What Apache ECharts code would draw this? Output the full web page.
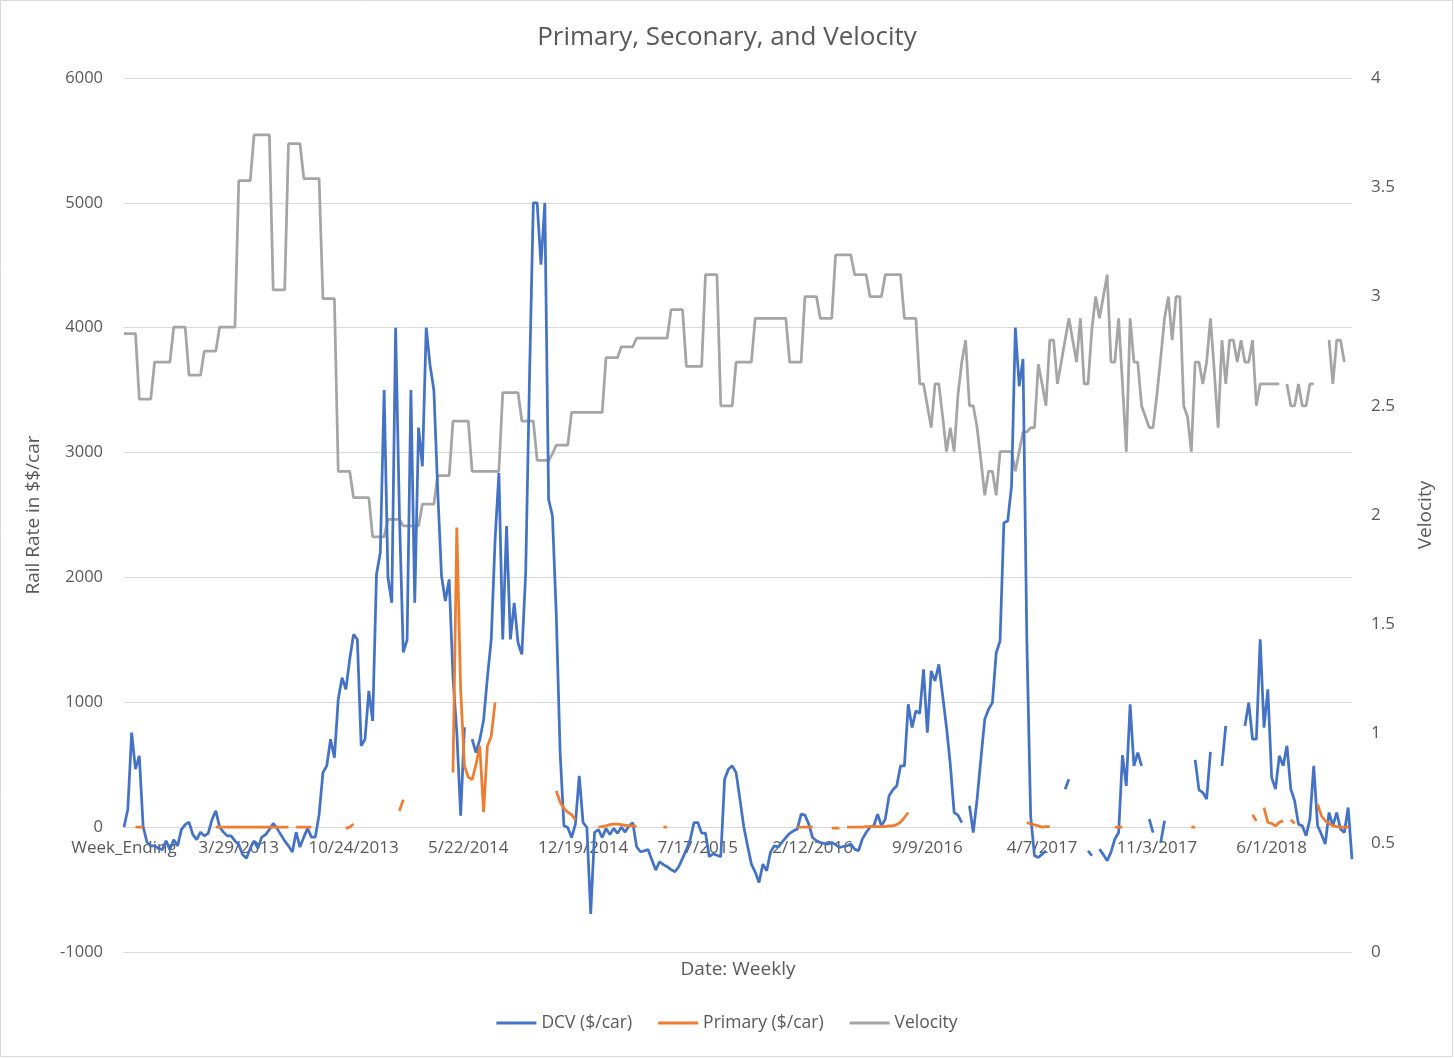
<!DOCTYPE html>
<html>
<head>
<meta charset="utf-8">
<title>Primary, Seconary, and Velocity</title>
<script src="https://cdn.jsdelivr.net/npm/echarts@6/dist/echarts.min.js"></script>
<style>
    html, body { margin: 0; padding: 0; background: #fff; }
    #main { width: 1454px; height: 1058px; }
</style>
</head>
<body>
<div id="main"></div>
<script>
/**
 * Weekly rail rates (DCV, Primary) and velocity
 */

var tickLabels = ['Week_Ending', '3/29/2013', '10/24/2013', '5/22/2014', '12/19/2014', '7/17/2015',
    '2/12/2016', '9/9/2016', '4/7/2017', '11/3/2017', '6/1/2018'];

// DCV ($/car), one value per week
var dcv = [
    0, 144, 757, 464, 571, 5, -120, -150, -150, -170,
    -180, -110, -180, -100, -150, -20, 20, 40, -60, -100,
    -40, -70, -50, 60, 130, 0, -40, -70, -70, -110,
    -140, -220, -250, -170, -110, -170, -80, -60, -20, 30,
    -10, -60, -110, -150, -200, -40, -160, -80, -10, -80,
    -80, 100, 437, 491, 704, 557, 1024, 1197, 1104, 1344,
    1544, 1504, 651, 704, 1091, 851, 2024, 2200, 3500, 2000,
    1797, 4000, 2500, 1400, 1500, 3500, 1797, 3200, 2890, 4000,
    3700, 3500, 2700, 2011, 1811, 1984, 1200, 757, 91, 800,
    null, 704, 597, 700, 859, 1200, 1504, 2300, 2837, 1504,
    2411, 1504, 1797, 1477, 1384, 2037, 3600, 5000, 5000, 4504,
    5000, 2624, 2491, 1700, 600, 11, -3, -83, 24, 411,
    37, -3, -696, -43, -19, -83, -10, -60, -10, -50,
    0, -40, 10, 35, -157, -197, -190, -179, -264, -344,
    -277, -300, -317, -340, -357, -317, -250, -180, -100, 37,
    37, -48, -48, -237, -213, -225, -237, 384, 464, 491,
    437, 224, 5, -149, -296, -360, -443, -296, -349, -200,
    -149, -160, -120, -83, -50, -29, -16, 104, 96, 24,
    -83, -109, -123, -130, -136, -123, -140, -163, -155, -149,
    -136, -176, -189, -96, -43, 0, 11, 104, 11, 64,
    251, 299, 331, 491, 491, 984, 797, 931, 912, 1264,
    757, 1251, 1171, 1304, 1051, 800, 500, 117, 96, 37,
    null, 171, -43, 224, 550, 864, 944, 997, 1397, 1491,
    2437, 2451, 2731, 4000, 3531, 3749, 1500, 91, -229, -243,
    -216, -189, null, null, null, null, 304, 384, null, null,
    null, null, -189, -229, null, -176, -220, -269, -200, -96,
    -43, 576, 331, 984, 491, 597, 491, null, 64, -43,
    null, -123, 51, null, null, null, null, null, null, null,
    539, 299, 277, 224, 603, null, null, 491, 811, null,
    null, null, null, 811, 997, 704, 704, 1504, 797, 1104,
    397, 304, 571, 491, 651, 304, 211, 24, 11, -69,
    64, 491, 11, -56, -136, 117, 11, 117, -16, -43,
    157, -256
];

// Primary ($/car)
var primary = [
    null, null, null, 0, 0, 0, null, null, null, null,
    null, null, null, null, null, null, null, null, null, null,
    null, null, null, null, 0, 0, 0, 0, 0, 0,
    0, 0, 0, 0, 0, 0, 0, 0, 0, 0,
    0, 0, 0, 0, null, 0, 0, 0, 0, 0,
    null, null, null, null, null, null, null, null, -10, 0,
    25, null, null, null, null, null, null, null, null, null,
    null, null, 130, 220, null, null, null, null, null, null,
    null, null, null, null, null, null, 437, 2400, 1100, 490,
    400, 380, 500, 650, 120, 650, 730, 1000, null, null,
    null, null, null, null, null, null, null, null, null, null,
    null, null, null, 290, 200, 150, 120, 100, 60, null,
    null, null, null, null, 0, 5, 10, 20, 25, 25,
    20, 15, 10, 10, 5, null, null, null, null, null,
    null, 0, 0, null, null, null, null, null, null, null,
    null, null, null, null, null, null, null, null, null, null,
    null, null, null, null, null, null, null, null, null, null,
    null, null, null, null, null, null, 0, 0, 0, 0,
    0, null, null, null, null, -8, -8, -8, null, 0,
    0, 0, 0, 0, 5, 5, 5, 5, 5, 5,
    10, 10, 20, 40, 77, 117, null, null, null, null,
    null, null, null, null, null, null, null, null, null, null,
    null, null, null, null, null, null, null, null, null, null,
    null, null, null, null, null, null, 37, 25, 19, 10,
    0, 5, 5, null, null, null, null, null, null, null,
    null, null, null, null, null, null, null, null, null, 0,
    0, 0, null, null, null, null, null, null, null, null,
    null, null, null, null, null, null, null, null, null, 0,
    0, null, null, null, null, null, null, null, null, null,
    null, null, null, null, null, 100, 50, null, 157, 37,
    30, 10, 40, 50, null, 60, 30, null, null, null,
    null, null, 184, 91, 51, 30, 10, 5, 0, 0,
    0, null
];

// Velocity (right axis)
var velocity = [
    2.83, 2.83, 2.83, 2.83, 2.53, 2.53, 2.53, 2.53, 2.70, 2.70,
    2.70, 2.70, 2.70, 2.86, 2.86, 2.86, 2.86, 2.64, 2.64, 2.64,
    2.64, 2.75, 2.75, 2.75, 2.75, 2.86, 2.86, 2.86, 2.86, 2.86,
    3.53, 3.53, 3.53, 3.53, 3.74, 3.74, 3.74, 3.74, 3.74, 3.03,
    3.03, 3.03, 3.03, 3.70, 3.70, 3.70, 3.70, 3.54, 3.54, 3.54,
    3.54, 3.54, 2.99, 2.99, 2.99, 2.99, 2.20, 2.20, 2.20, 2.20,
    2.08, 2.08, 2.08, 2.08, 2.08, 1.90, 1.90, 1.90, 1.90, 1.98,
    1.98, 1.98, 1.98, 1.95, 1.95, 1.95, 1.95, 1.95, 2.05, 2.05,
    2.05, 2.05, 2.18, 2.18, 2.18, 2.18, 2.43, 2.43, 2.43, 2.43,
    2.43, 2.20, 2.20, 2.20, 2.20, 2.20, 2.20, 2.20, 2.20, 2.56,
    2.56, 2.56, 2.56, 2.56, 2.43, 2.43, 2.43, 2.43, 2.25, 2.25,
    2.25, 2.25, 2.28, 2.32, 2.32, 2.32, 2.32, 2.47, 2.47, 2.47,
    2.47, 2.47, 2.47, 2.47, 2.47, 2.47, 2.72, 2.72, 2.72, 2.72,
    2.77, 2.77, 2.77, 2.77, 2.81, 2.81, 2.81, 2.81, 2.81, 2.81,
    2.81, 2.81, 2.81, 2.94, 2.94, 2.94, 2.94, 2.68, 2.68, 2.68,
    2.68, 2.68, 3.10, 3.10, 3.10, 3.10, 2.50, 2.50, 2.50, 2.50,
    2.70, 2.70, 2.70, 2.70, 2.70, 2.90, 2.90, 2.90, 2.90, 2.90,
    2.90, 2.90, 2.90, 2.90, 2.70, 2.70, 2.70, 2.70, 3.00, 3.00,
    3.00, 3.00, 2.90, 2.90, 2.90, 2.90, 3.19, 3.19, 3.19, 3.19,
    3.19, 3.10, 3.10, 3.10, 3.10, 3.00, 3.00, 3.00, 3.00, 3.10,
    3.10, 3.10, 3.10, 3.10, 2.90, 2.90, 2.90, 2.90, 2.60, 2.60,
    2.50, 2.40, 2.60, 2.60, 2.45, 2.29, 2.40, 2.29, 2.55, 2.70,
    2.80, 2.50, 2.50, 2.40, 2.25, 2.09, 2.20, 2.20, 2.09, 2.29,
    2.29, 2.29, 2.29, 2.20, 2.29, 2.38, 2.38, 2.40, 2.40, 2.69,
    2.60, 2.50, 2.80, 2.80, 2.60, 2.70, 2.80, 2.90, 2.80, 2.70,
    2.90, 2.60, 2.60, 2.85, 3.00, 2.90, 3.00, 3.10, 2.70, 2.70,
    2.90, 2.60, 2.29, 2.90, 2.70, 2.70, 2.50, 2.45, 2.40, 2.40,
    2.55, 2.72, 2.90, 3.00, 2.80, 3.00, 3.00, 2.50, 2.45, 2.29,
    2.70, 2.70, 2.60, 2.70, 2.90, 2.66, 2.40, 2.80, 2.60, 2.80,
    2.80, 2.70, 2.80, 2.70, 2.70, 2.80, 2.50, 2.60, 2.60, 2.60,
    2.60, 2.60, 2.60, null, 2.60, 2.50, 2.50, 2.60, 2.50, 2.50,
    2.60, 2.60, null, null, null, 2.80, 2.60, 2.80, 2.80, 2.70,
    null, null
];

/**
 * week ending dates, header cell first, every 30th one is a shown tick
 */
chartWeeks = function(count) {
    var list = ['Week_Ending'];
    for (var i = 1; i < count; i++) {
        var d = new Date(2012, 8, 7 + (i - 1) * 7);
        list.push((d.getMonth() + 1) + '/' + d.getDate() + '/' + d.getFullYear());
    }
    for (var k = 0; k < tickLabels.length; k++) {
        list[k * 30] = tickLabels[k];
    }
    return list;
}

var categories = chartWeeks(dcv.length);
var textColor = '#595959';
var fontName = 'Open Sans';

// grid box and where the 0 of the left axis falls, so the date axis can sit on it
var gridTop = 78, gridBottom = 106, chartHeight = 1058;
var leftMin = -1000, leftMax = 6000;
var plotHeight = chartHeight - gridTop - gridBottom;
var zeroShift = -plotHeight * (0 - leftMin) / (leftMax - leftMin);

var chart = echarts.init(document.getElementById('main'), null, {renderer: 'canvas'});

chart.setOption({
    backgroundColor: '#fff',
    animation: false,
    textStyle: {fontFamily: fontName},
    title: {
        text: 'Primary, Seconary, and Velocity',
        left: 'center',
        top: 20,
        textStyle: {color: textColor, fontSize: 26, fontWeight: 'normal', fontFamily: fontName}
    },
    grid: {left: 124, right: 102, top: gridTop, bottom: gridBottom, containLabel: false, outerBoundsMode: 'none'},
    legend: {
        bottom: 21,
        left: 'center',
        icon: 'rect',
        itemWidth: 40,
        itemHeight: 3,
        itemGap: 26,
        textStyle: {color: textColor, fontSize: 17.5, fontFamily: fontName},
        data: ['DCV ($/car)', 'Primary ($/car)', 'Velocity']
    },
    xAxis: {
        type: 'category',
        data: categories,
        boundaryGap: false,
        offset: zeroShift,
        name: 'Date: Weekly',
        nameLocation: 'middle',
        nameGap: 133,
        nameTextStyle: {color: textColor, fontSize: 19},
        axisLine: {onZero: false, lineStyle: {color: '#d9d9d9'}},
        axisTick: {show: false},
        axisLabel: {interval: 29, color: textColor, fontSize: 17, margin: 13},
        splitLine: {show: false}
    },
    yAxis: [{
        type: 'value',
        min: leftMin,
        max: leftMax,
        interval: 1000,
        name: 'Rail Rate in $$/car',
        nameLocation: 'middle',
        nameRotate: 90,
        nameGap: 81,
        nameTextStyle: {color: textColor, fontSize: 19},
        axisLine: {show: false},
        axisTick: {show: false},
        axisLabel: {
            color: textColor,
            fontSize: 16.5,
            margin: 21,
            formatter: function(v) { return String(v); }
        },
        splitLine: {lineStyle: {color: '#d9d9d9', width: 1}}
    }, {
        type: 'value',
        min: 0,
        max: 4,
        interval: 0.5,
        name: 'Velocity',
        nameLocation: 'middle',
        nameRotate: 90,
        nameGap: 64,
        nameTextStyle: {color: textColor, fontSize: 19},
        axisLine: {show: false},
        axisTick: {show: false},
        axisLabel: {color: textColor, fontSize: 17, margin: 19},
        splitLine: {show: false}
    }],
    series: [{
        name: 'DCV ($/car)',
        type: 'line',
        yAxisIndex: 0,
        data: dcv,
        symbol: 'none',
        connectNulls: false,
        lineStyle: {color: '#4472C4', width: 2.75},
        itemStyle: {color: '#4472C4'}
    }, {
        name: 'Primary ($/car)',
        type: 'line',
        yAxisIndex: 0,
        data: primary,
        symbol: 'none',
        connectNulls: false,
        lineStyle: {color: '#ED7D31', width: 2.75},
        itemStyle: {color: '#ED7D31'}
    }, {
        name: 'Velocity',
        type: 'line',
        yAxisIndex: 1,
        data: velocity,
        symbol: 'none',
        connectNulls: false,
        z: 1,
        lineStyle: {color: '#A5A5A5', width: 2.75},
        itemStyle: {color: '#A5A5A5'}
    }],
    graphic: [{
        type: 'rect',
        shape: {x: 0.5, y: 0.5, width: 1452, height: 1056},
        style: {fill: 'none', stroke: '#d9d9d9', lineWidth: 1},
        silent: true
    }]
});
</script>
</body>
</html>
